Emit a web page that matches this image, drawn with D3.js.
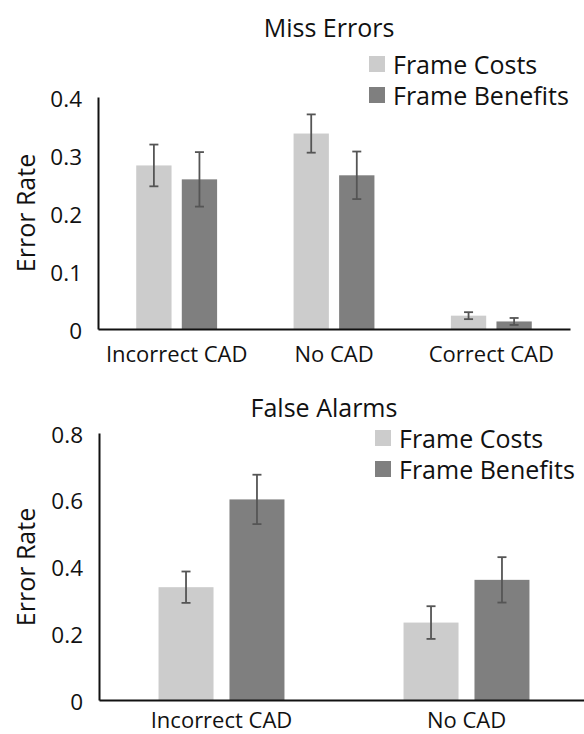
<!DOCTYPE html>
<html>
<head>
<meta charset="utf-8">
<script src="https://cdn.jsdelivr.net/npm/d3@7"></script>
<style>
  body { margin: 0; background: #fff; }
  svg { display: block; font-family: "Open Sans", "Noto Sans", sans-serif; }
</style>
</head>
<body>
<div id="chart"></div>
<script>
const series = ["Frame Costs", "Frame Benefits"];
const seriesColors = ["#cccccc", "#7f7f7f"];

// Miss Errors panel
const missCategories = ["Incorrect CAD", "No CAD", "Correct CAD"];
const missCosts = [0.282, 0.337, 0.023];
const missCostsErr = [0.036, 0.033, 0.006];
const missBenefits = [0.258, 0.265, 0.013];
const missBenefitsErr = [0.047, 0.041, 0.006];
const missTicks = [0, 0.1, 0.2, 0.3, 0.4];

// False Alarms panel
const faCategories = ["Incorrect CAD", "No CAD"];
const faCosts = [0.338, 0.232];
const faCostsErr = [0.047, 0.049];
const faBenefits = [0.601, 0.36];
const faBenefitsErr = [0.074, 0.068];
const faTicks = [0, 0.2, 0.4, 0.6, 0.8];

const width = 584;
const height = 734;
const ink = "#111";

const svg = d3.select("#chart")
  .append("svg")
  .attr("width", width)
  .attr("height", height)
  .attr("viewBox", `0 0 ${width} ${height}`);

svg.append("rect").attr("width", width).attr("height", height).attr("fill", "#fff");

function drawPanel(cfg) {
  const g = svg.append("g");

  const x0 = d3.scaleBand()
    .domain(cfg.categories)
    .range([cfg.left, cfg.right]);

  const x1 = d3.scaleBand()
    .domain(series)
    .range([x0.bandwidth() * 0.243, x0.bandwidth() * 0.757])
    .paddingInner(0.225);

  const y = d3.scaleLinear()
    .domain([0, cfg.ticks[cfg.ticks.length - 1]])
    .range([cfg.base, cfg.top]);

  const rows = cfg.categories.map((c, i) => ({
    cat: c,
    vals: [
      { s: series[0], v: cfg.costs[i], e: cfg.costsErr[i] },
      { s: series[1], v: cfg.benefits[i], e: cfg.benefitsErr[i] }
    ]
  }));

  // bars
  const grp = g.append("g")
    .selectAll("g")
    .data(rows)
    .enter()
    .append("g")
    .attr("transform", (d) => `translate(${x0(d.cat)},0)`);

  grp.selectAll("rect")
    .data((d) => d.vals)
    .enter()
    .append("rect")
    .attr("x", (d) => x1(d.s))
    .attr("width", x1.bandwidth())
    .attr("y", (d) => y(d.v))
    .attr("height", (d) => y(0) - y(d.v))
    .attr("fill", (d, i) => seriesColors[i]);

  // error bars
  const cap = 4.5;
  const eb = grp.selectAll("g.err")
    .data((d) => d.vals)
    .enter()
    .append("g")
    .attr("class", "err")
    .attr("stroke", "#555")
    .attr("stroke-width", 1.8);

  const cx = (d) => x1(d.s) + x1.bandwidth() / 2;
  eb.append("line")
    .attr("x1", cx).attr("x2", cx)
    .attr("y1", (d) => y(d.v + d.e))
    .attr("y2", (d) => y(d.v - d.e));
  eb.append("line")
    .attr("x1", (d) => cx(d) - cap).attr("x2", (d) => cx(d) + cap)
    .attr("y1", (d) => y(d.v + d.e)).attr("y2", (d) => y(d.v + d.e));
  eb.append("line")
    .attr("x1", (d) => cx(d) - cap).attr("x2", (d) => cx(d) + cap)
    .attr("y1", (d) => y(d.v - d.e)).attr("y2", (d) => y(d.v - d.e));

  // y axis
  const ya = g.append("g")
    .attr("transform", `translate(${cfg.left},0)`)
    .call(d3.axisLeft(y).tickValues(cfg.ticks).tickFormat((t) => String(t))
      .tickSize(0).tickPadding(16));
  ya.select(".domain").attr("stroke", ink).attr("stroke-width", 2);
  ya.selectAll("text")
    .attr("font-size", 22.5)
    .attr("font-family", "Open Sans")
    .attr("fill", ink)
    .attr("dy", "0.4em");

  // x axis
  const xa = g.append("g")
    .attr("transform", `translate(0,${cfg.base})`)
    .call(d3.axisBottom(x0).tickSize(0).tickPadding(cfg.xPad));
  xa.select(".domain").attr("stroke", ink).attr("stroke-width", 2);
  xa.selectAll("text")
    .attr("font-size", 22)
    .attr("font-family", "Open Sans")
    .attr("fill", ink);

  // axis title
  g.append("text")
    .attr("transform", `translate(${cfg.yLabelX},${cfg.yLabelY}) rotate(-90)`)
    .attr("text-anchor", "middle")
    .attr("dominant-baseline", "central")
    .attr("font-size", 25)
    .attr("fill", ink)
    .text("Error Rate");

  // chart title
  g.append("text")
    .attr("x", cfg.titleX)
    .attr("y", cfg.titleY)
    .attr("text-anchor", "middle")
    .attr("dominant-baseline", "central")
    .attr("font-size", 25)
    .attr("fill", ink)
    .text(cfg.title);

  // legend
  const lg = g.append("g")
    .selectAll("g")
    .data(series)
    .enter()
    .append("g")
    .attr("transform", (d, i) => `translate(${cfg.legX},${cfg.legY + i * 31})`);
  lg.append("rect")
    .attr("x", 0).attr("y", -8)
    .attr("width", 16).attr("height", 16)
    .attr("fill", (d, i) => seriesColors[i]);
  lg.append("text")
    .attr("x", 24)
    .attr("dominant-baseline", "central")
    .attr("font-size", 25)
    .attr("fill", ink)
    .text((d) => d);
}

drawPanel({
  title: "Miss Errors",
  categories: missCategories,
  costs: missCosts, costsErr: missCostsErr,
  benefits: missBenefits, benefitsErr: missBenefitsErr,
  ticks: missTicks,
  left: 98, right: 570, top: 97, base: 329,
  xPad: 17,
  yLabelX: 25, yLabelY: 213,
  titleX: 329, titleY: 27,
  legX: 369, legY: 64
});

drawPanel({
  title: "False Alarms",
  categories: faCategories,
  costs: faCosts, costsErr: faCostsErr,
  benefits: faBenefits, benefitsErr: faBenefitsErr,
  ticks: faTicks,
  left: 99, right: 589, top: 433, base: 700,
  xPad: 12,
  yLabelX: 25, yLabelY: 567,
  titleX: 324, titleY: 407,
  legX: 375, legY: 438
});
</script>
</body>
</html>
